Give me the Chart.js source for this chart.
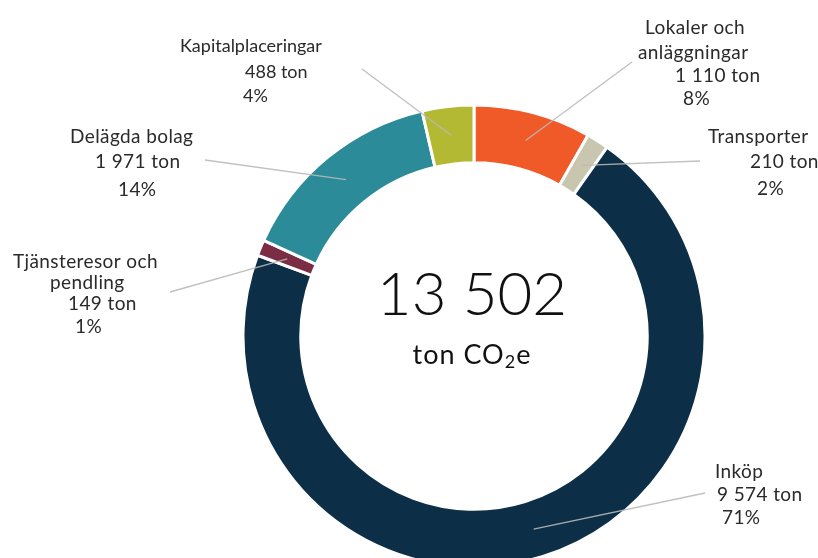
<!DOCTYPE html>
<html lang="sv">
<head>
<meta charset="utf-8">
<script src="https://cdn.jsdelivr.net/npm/chart.js@4.4.1/dist/chart.umd.min.js"></script>
<style>
  html, body { margin: 0; padding: 0; background: #fff; overflow: hidden; }
  #wrap { position: relative; width: 818px; height: 570px; }
</style>
</head>
<body>
<div id="wrap"><canvas id="co2Chart"></canvas></div>
<script>
// Data (ton CO2e per kategori)
const categories = [
  ["Lokaler och", "anläggningar"],
  ["Transporter"],
  ["Inköp"],
  ["Tjänsteresor och", "pendling"],
  ["Delägda bolag"],
  ["Kapitalplaceringar"],
];
const tons = [1110, 210, 9574, 149, 1971, 488];
const percentLabels = ["8%", "2%", "71%", "1%", "14%", "4%"];
const colors = ["#f05a28", "#c9c6b0", "#0c2e46", "#7b2d45", "#2b8b98", "#b4b934"];

const totalTons = tons.reduce((a, b) => a + b, 0);

function formatTon(n) {
  return String(n).replace(/\B(?=(\d{3})+(?!\d))/g, " ");
}

// Placering av etiketter: start för linjen + position för varje textrad
const labelLayout = [
  { from: [632, 62], lines: [[645, 28], [638, 53], [675, 76], [683, 99]] },
  { from: [700, 161], lines: [[708, 137], [750, 162], [757, 189]] },
  { from: [705, 493], lines: [[715, 472], [717, 495], [722, 518]] },
  { from: [170, 292], lines: [[13, 262], [50, 283], [68, 304], [75, 327]] },
  { from: [205, 160], lines: [[70, 137], [95, 162], [118, 190]] },
  { from: [362, 69], lines: [[180, 46], [245, 72], [243, 96]] },
];

const labelPlugin = {
  id: "outerLabels",
  afterDatasetsDraw(chart) {
    const ctx = chart.ctx;
    const meta = chart.getDatasetMeta(0);
    ctx.save();
    // Linjer
    ctx.strokeStyle = "rgba(185, 185, 185, 0.9)";
    ctx.lineWidth = 1.3;
    meta.data.forEach((arc, i) => {
      const p = arc.tooltipPosition();
      const from = labelLayout[i].from;
      ctx.beginPath();
      ctx.moveTo(from[0], from[1]);
      ctx.lineTo(p.x, p.y);
      ctx.stroke();
    });
    // Text
    ctx.fillStyle = "#2a2a2a";
    ctx.textAlign = "left";
    ctx.textBaseline = "middle";
    categories.forEach((cat, i) => {
      const texts = [...cat, formatTon(tons[i]) + " ton", percentLabels[i]];
      // Kapitalplaceringar är lite smalare i originalet
      ctx.font = i === 5 ? "18px Lato" : "19px Lato";
      ctx.letterSpacing = i === 5 ? "0px" : "0.4px";
      texts.forEach((t, j) => {
        const pos = labelLayout[i].lines[j];
        ctx.fillText(t, pos[0], pos[1]);
      });
    });
    ctx.letterSpacing = "0px";

    // Mitten-text
    const cx = meta.data[0].x;
    const cy = meta.data[0].y;
    ctx.fillStyle = "#111";
    ctx.textAlign = "center";
    ctx.font = "300 60px Lato";
    ctx.fillText(formatTon(totalTons), cx - 2, cy - 40);

    ctx.textAlign = "left";
    ctx.letterSpacing = "1px";
    ctx.font = "27px Lato";
    const a = "ton CO";
    const b = "2";
    const c = "e";
    const wa = ctx.measureText(a).width;
    const wc = ctx.measureText(c).width;
    ctx.font = "18px Lato";
    const wb = ctx.measureText(b).width;
    let x = cx - 2 - (wa + wb + wc) / 2;
    const y = cy + 19;
    ctx.font = "27px Lato";
    ctx.fillText(a, x, y);
    x += wa;
    ctx.font = "18px Lato";
    ctx.fillText(b, x, y + 7);
    x += wb;
    ctx.font = "27px Lato";
    ctx.fillText(c, x, y);
    ctx.restore();
  },
};

const chart = new Chart(document.getElementById("co2Chart"), {
  type: "doughnut",
  data: {
    labels: categories.map((c) => c.join(" ")),
    datasets: [
      {
        data: tons,
        backgroundColor: colors,
        borderColor: "#ffffff",
        borderWidth: 3,
        hoverOffset: 0,
        offset: 0,
      },
    ],
  },
  options: {
    responsive: true,
    maintainAspectRatio: false,
    animation: false,
    cutout: "75%",
    rotation: 0,
    layout: {
      padding: { top: 103.5, bottom: 1.5, left: 241.5, right: 111.5 },
    },
    plugins: {
      legend: { display: false },
      tooltip: { enabled: false },
    },
  },
  plugins: [labelPlugin],
});
</script>
</body>
</html>
